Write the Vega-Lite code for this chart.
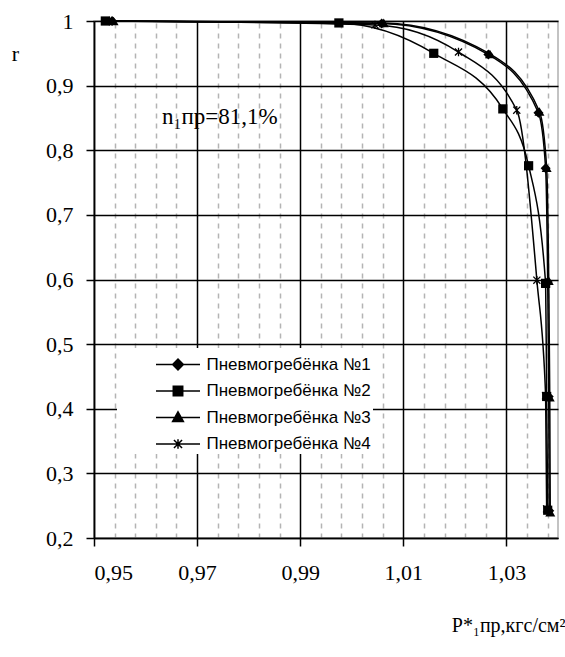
{
  "$schema": "https://vega.github.io/schema/vega-lite/v6.json",
  "width": 464,
  "height": 517,
  "autosize": {"type": "none"},
  "padding": {"left": 94, "top": 21, "right": 7, "bottom": 119},
  "background": "white",
  "config": {
    "view": {"stroke": "#b0b0b0", "strokeWidth": 1.5},
    "font": "Liberation Serif"
  },
  "data": {
    "values": [
      {"series": "Пневмогребёнка №1", "p": 0.9535, "r": 1.0},
      {"series": "Пневмогребёнка №1", "p": 1.0058, "r": 0.996},
      {"series": "Пневмогребёнка №1", "p": 1.0265, "r": 0.948},
      {"series": "Пневмогребёнка №1", "p": 1.0362, "r": 0.858},
      {"series": "Пневмогребёнка №1", "p": 1.0376, "r": 0.772},
      {"series": "Пневмогребёнка №1", "p": 1.038, "r": 0.596},
      {"series": "Пневмогребёнка №1", "p": 1.0382, "r": 0.419},
      {"series": "Пневмогребёнка №1", "p": 1.0383, "r": 0.242},
      {"series": "Пневмогребёнка №2", "p": 0.9522, "r": 1.0},
      {"series": "Пневмогребёнка №2", "p": 0.9975, "r": 0.997},
      {"series": "Пневмогребёнка №2", "p": 1.0159, "r": 0.95},
      {"series": "Пневмогребёнка №2", "p": 1.0293, "r": 0.864},
      {"series": "Пневмогребёнка №2", "p": 1.0343, "r": 0.776},
      {"series": "Пневмогребёнка №2", "p": 1.0376, "r": 0.594},
      {"series": "Пневмогребёнка №2", "p": 1.0378, "r": 0.419},
      {"series": "Пневмогребёнка №2", "p": 1.038, "r": 0.243},
      {"series": "Пневмогребёнка №3", "p": 0.9538, "r": 1.0},
      {"series": "Пневмогребёнка №3", "p": 1.0062, "r": 0.997},
      {"series": "Пневмогребёнка №3", "p": 1.0268, "r": 0.949},
      {"series": "Пневмогребёнка №3", "p": 1.0364, "r": 0.86},
      {"series": "Пневмогребёнка №3", "p": 1.0378, "r": 0.773},
      {"series": "Пневмогребёнка №3", "p": 1.0382, "r": 0.598},
      {"series": "Пневмогребёнка №3", "p": 1.0384, "r": 0.418},
      {"series": "Пневмогребёнка №3", "p": 1.0385, "r": 0.24},
      {"series": "Пневмогребёнка №4", "p": 0.953, "r": 1.0},
      {"series": "Пневмогребёнка №4", "p": 1.0045, "r": 0.994},
      {"series": "Пневмогребёнка №4", "p": 1.0207, "r": 0.952},
      {"series": "Пневмогребёнка №4", "p": 1.032, "r": 0.862},
      {"series": "Пневмогребёнка №4", "p": 1.0359, "r": 0.599},
      {"series": "Пневмогребёнка №4", "p": 1.0376, "r": 0.42},
      {"series": "Пневмогребёнка №4", "p": 1.0378, "r": 0.245}
    ]
  },
  "resolve": {"axis": {"x": "independent"}},
  "layer": [
    {
      "mark": {"type": "line", "interpolate": "monotone", "strokeWidth": 1.5},
      "encoding": {
        "x": {
          "field": "p", "type": "quantitative",
          "scale": {"domain": [0.95, 1.04], "nice": false, "zero": false},
          "axis": {
            "values": [0.95, 0.97, 0.99, 1.01, 1.03],
            "labelExpr": "replace(format(datum.value,'.2f'),'.',',')",
            "grid": true, "gridColor": "black", "gridWidth": 1.5, "gridOpacity": 1,
            "domainColor": "black", "domainWidth": 1.5,
            "tickColor": "black", "tickWidth": 1.5, "tickSize": 8,
            "labelFont": "Liberation Serif", "labelFontSize": 22, "labelColor": "black", "labelPadding": 16,
            "title": "P*₁пр,кгс/см²",
            "titleFont": "Liberation Serif", "titleFontSize": 20, "titleFontWeight": "normal", "titleColor": "black",
            "titleAnchor": "end", "titleAlign": "right", "titleX": 471, "titleY": 93, "titleBaseline": "alphabetic"
          }
        },
        "y": {
          "field": "r", "type": "quantitative",
          "scale": {"domain": [0.2, 1.0], "nice": false, "zero": false},
          "axis": {
            "values": [0.2, 0.3, 0.4, 0.5, 0.6, 0.7, 0.8, 0.9, 1.0],
            "labelExpr": "replace(format(datum.value,'.1~f'),'.',',')",
            "grid": true, "gridColor": "black", "gridWidth": 1.5, "gridOpacity": 1,
            "domainColor": "black", "domainWidth": 1.5,
            "tickColor": "black", "tickWidth": 1.5, "tickSize": 8,
            "labelFont": "Liberation Serif", "labelFontSize": 22, "labelColor": "black", "labelPadding": 13,
            "title": "r",
            "titleFont": "Liberation Serif", "titleFontSize": 22, "titleFontWeight": "normal", "titleColor": "black",
            "titleAngle": 0, "titleAlign": "center", "titleBaseline": "alphabetic", "titleX": -79, "titleY": 39
          }
        },
        "color": {
          "field": "series", "type": "nominal",
          "scale": {"range": ["black", "black", "black", "black"]},
          "legend": {
            "orient": "none", "legendX": 23, "legendY": 327,
            "title": null, "fillColor": "white", "padding": 2,
            "symbolSize": 729, "symbolOffset": 44.5, "labelOffset": 14, "rowPadding": 3.5, "labelLimit": 400,
            "labelFont": "Liberation Sans", "labelFontSize": 17, "labelColor": "black",
            "labelExpr": "datum.label + '\u00a0\u00a0\u00a0\u00a0\u00a0\u00a0\u00a0\u00a0'",
            "encode": {
              "legend": {
                "update": {
                  "fill": {"value": "white"}
                }
              },
              "symbols": {
                "update": {
                  "shape": {"signal": "{'1': 'M-1.63,0H1.63M-0.4,0L0,-0.4L0.4,0L0,0.4Z', '2': 'M-1.63,0H1.63M-0.35,-0.35H0.35V0.35H-0.35Z', '3': 'M-1.63,0H1.63M0,-0.42L0.4,0.3H-0.4Z', '4': 'M-1.63,0H1.63M-0.3,-0.3L0.3,0.3M0.3,-0.3L-0.3,0.3M0,-0.35V0.35'}[slice(datum.value,-1)]"},
                  "fill": {"value": "black"},
                  "strokeWidth": {"value": 1.5}
                }
              }
            }
          }
        }
      }
    },
    {
      "transform": [{"filter": {"field": "series", "equal": "Пневмогребёнка №1"}}],
      "mark": {"type": "point", "shape": "diamond", "filled": true, "color": "black", "opacity": 1, "size": 100},
      "encoding": {
        "x": {
          "field": "p", "type": "quantitative",
          "axis": {
            "orient": "top",
            "values": [0.954, 0.958, 0.962, 0.966, 0.974, 0.978, 0.982, 0.986, 0.994, 0.998, 1.002, 1.006, 1.014, 1.018, 1.022, 1.026, 1.034, 1.038],
            "grid": true, "gridColor": "#b4b4b4", "gridDash": [5, 5], "gridWidth": 1.5, "gridOpacity": 1,
            "domain": false, "ticks": false, "labels": false, "title": null
          }
        },
        "y": {"field": "r", "type": "quantitative"}
      }
    },
    {
      "transform": [{"filter": {"field": "series", "equal": "Пневмогребёнка №2"}}],
      "mark": {"type": "point", "shape": "square", "filled": true, "color": "black", "opacity": 1, "size": 85},
      "encoding": {
        "x": {"field": "p", "type": "quantitative", "axis": null},
        "y": {"field": "r", "type": "quantitative"}
      }
    },
    {
      "transform": [{"filter": {"field": "series", "equal": "Пневмогребёнка №3"}}],
      "mark": {"type": "point", "shape": "triangle-up", "filled": true, "color": "black", "opacity": 1, "size": 100},
      "encoding": {
        "x": {"field": "p", "type": "quantitative", "axis": null},
        "y": {"field": "r", "type": "quantitative"}
      }
    },
    {
      "transform": [{"filter": {"field": "series", "equal": "Пневмогребёнка №4"}}],
      "mark": {"type": "point", "shape": "M-1,-1L1,1M1,-1L-1,1M0,-1.2V1.2", "filled": false, "color": "black", "strokeWidth": 1.3, "opacity": 1, "size": 50},
      "encoding": {
        "x": {"field": "p", "type": "quantitative", "axis": null},
        "y": {"field": "r", "type": "quantitative"}
      }
    },
    {
      "data": {"values": [{"label": "n₁пр=81,1%"}]},
      "mark": {"type": "text", "font": "Liberation Serif", "fontSize": 23, "fill": "black", "align": "center", "baseline": "middle"},
      "encoding": {
        "text": {"field": "label"},
        "x": {"datum": 0.9744, "type": "quantitative", "axis": null},
        "y": {"datum": 0.851, "type": "quantitative"}
      }
    }
  ]
}
